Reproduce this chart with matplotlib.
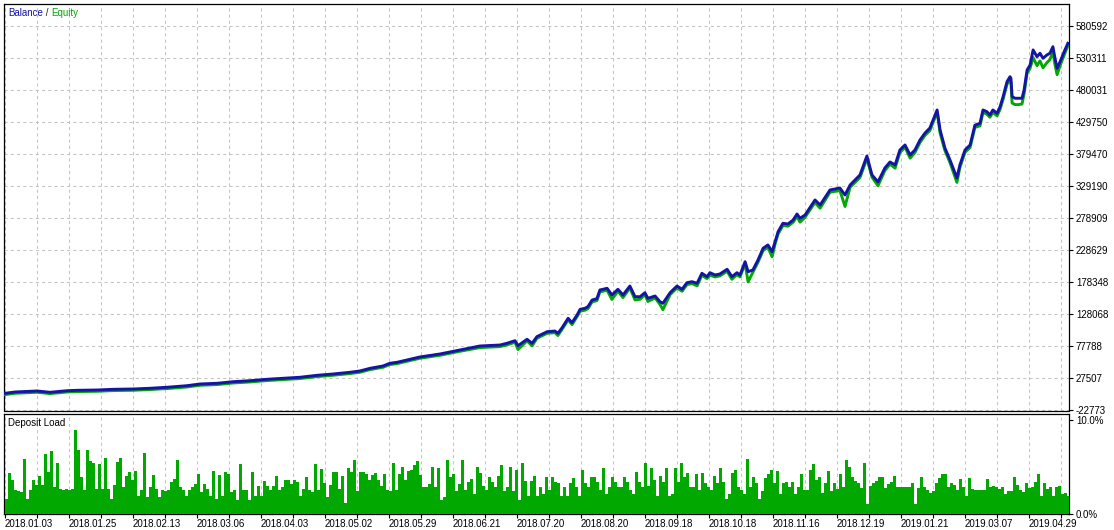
import numpy as np
import matplotlib
matplotlib.use("Agg")
import matplotlib.pyplot as plt

plt.rcParams['font.family'] = ['Liberation Sans', 'DejaVu Sans']

# Balance curve: deal number -> account balance
deal_no = [0, 3.3, 10.7, 15, 20.7, 24, 30.7, 36, 42.7, 48.3,
           54, 60.7, 65, 70.7, 76, 81.7, 87.3, 92.7, 98.3, 104,
           109.3, 115, 118.3, 121.7, 126, 128.3, 130.7, 138.3, 145, 151.7,
           158.3, 165, 167.3, 170, 171, 174, 175.7, 177.3, 180.7, 183.3,
           184.3, 185.7, 187.7, 189, 190.7, 191.7, 193.3, 194.3, 195.7, 197.3,
           198.3, 200.7, 202.3, 204.3, 206, 208.3, 210, 211.7, 213.3, 214.3,
           216.7, 218.3, 219.3, 221.7, 224, 225.7, 227.3, 229, 230.7, 232.3,
           234, 235, 236.7, 238.3, 240.7, 242.3, 244, 245, 246.7, 247.7,
           249.3, 251, 252.7, 254.3, 255.7, 256.7, 257.7, 259.3, 261, 262.7,
           264, 265, 266.7, 270, 271.7, 275, 278.3, 280, 281.7, 285,
           287.3, 289, 291, 293.3, 295, 296.7, 298.3, 300, 301.7, 303.3,
           305, 306.7, 308.3, 310.7, 311.7, 313.3, 315, 317.3, 318.3, 320,
           321.7, 323.3, 325, 326, 327.3, 328.3, 329.3, 330.7, 331.7, 332.7,
           334, 335, 335.3, 335.7, 336.7, 337.7, 339, 339.7, 340.7, 341.7,
           342.7, 344, 345, 346, 347.3, 348.3, 349.3, 350, 350.7, 351.7,
           353.3, 354.3]

balance = [3900, 6000, 7550, 5500, 8000, 8650, 9100, 10200, 10700, 11800,
           13400, 15900, 18550, 19650, 22150, 23750, 25950, 27500, 29100, 32200,
           34250, 36950, 39000, 43200, 46850, 51100, 52650, 61000, 65700, 72000,
           78250, 79800, 82500, 86600, 78700, 88800, 82500, 92900, 100700, 101800,
           98200, 107000, 121800, 114900, 127000, 135900, 137500, 140000, 150500, 152600,
           166250, 168900, 158400, 167350, 158400, 172500, 155700, 155700, 162000, 153200,
           156800, 147900, 145350, 162000, 172500, 167350, 177700, 179300, 176800, 192500,
           187150, 193400, 189800, 191400, 198800, 187150, 193400, 189800, 210700, 195000,
           197700, 213400, 231800, 237000, 226400, 242100, 257900, 271000, 270000, 276200,
           285700, 278900, 284100, 307700, 299800, 323400, 326500, 315500, 331200, 347000,
           376800, 347000, 336000, 358000, 367400, 362700, 386200, 394100, 378400, 386200,
           402000, 413000, 420800, 449100, 417700, 389400, 370500, 342300, 362700, 386200,
           394100, 425200, 428200, 449100, 446400, 441200, 449100, 443900, 454300, 470000,
           493500, 501400, 499000, 470000, 467500, 467500, 467500, 480500, 511900, 519800,
           543400, 532800, 538200, 530300, 535500, 538200, 548500, 530300, 514600, 525000,
           543400, 553900]

# open (floating) loss at the same points: equity = balance - floating loss
floating_loss = [2000, 2000, 2000, 2000, 2000, 2000, 2000, 2000, 2000, 2000,
                 2000, 2000, 2000, 2000, 2000, 2000, 2000, 2000, 2000, 2000,
                 2000, 2000, 2000, 2000, 2000, 2000, 2000, 2000, 2000, 2000,
                 2500, 2500, 2500, 2500, 6000, 2500, 4000, 2500, 2500, 2500,
                 3500, 2500, 2500, 3000, 2500, 3000, 3000, 3000, 3000, 3000,
                 3000, 3000, 7000, 3000, 4000, 3000, 5000, 4000, 3000, 5000,
                 3000, 4000, 10000, 3000, 3000, 3000, 3000, 3000, 4000, 3000,
                 3000, 4000, 3000, 3000, 3000, 4000, 3000, 3000, 3000, 16000,
                 3500, 3500, 3500, 3500, 8000, 3500, 3500, 3500, 3500, 3500,
                 4000, 6000, 3500, 4000, 5000, 3500, 4000, 18000, 3500, 4000,
                 4000, 3500, 6000, 4000, 3500, 5000, 4000, 3500, 5000, 4000,
                 4000, 3500, 4000, 3500, 5000, 4000, 4000, 7000, 4000, 3500,
                 4000, 3500, 4000, 3500, 4000, 3500, 4000, 4000, 4000, 4000,
                 4000, 5000, 5000, 10000, 10000, 10000, 9000, 6000, 5000, 5000,
                 12000, 14000, 12000, 15000, 12000, 10000, 8000, 10000, 10000, 6000,
                 5000, 4000]

# deposit load in percent, one bar per 3 deals
deposit_load = [
    1.6, 4.4, 3.55, 2.5, 2.45, 2.3, 5.9, 1.55, 2.5, 3.65,
    3.1, 4.0, 3.1, 6.35, 4.45, 6.7, 2.85, 5.4, 2.65, 2.5,
    2.65, 2.5, 2.65, 9.0, 6.85, 3.9, 2.5, 6.8, 5.6, 5.4,
    2.65, 5.35, 2.65, 6.0, 2.65, 1.55, 3.1, 5.5, 6.0, 2.9,
    4.0, 4.45, 3.55, 4.6, 1.9, 2.5, 6.5, 1.8, 2.9, 4.1,
    2.65, 1.8, 2.5, 2.4, 2.5, 3.35, 3.7, 5.75, 2.85, 2.5,
    1.9, 2.5, 2.85, 3.2, 4.25, 2.3, 3.2, 2.65, 1.9, 4.6,
    1.55, 4.1, 1.9, 4.45, 4.25, 2.3, 2.55, 1.4, 5.35, 2.5,
    2.5, 1.4, 4.45, 1.9, 3.0, 1.9, 3.45, 3.0, 2.5,
    3.0, 4.0, 2.5, 2.9, 3.65, 3.55, 3.2, 3.55, 3.35, 1.9,
    2.65, 3.9, 2.5, 2.3, 5.3, 2.55, 4.8, 3.3, 1.8, 3.1,
    4.5, 4.5, 2.65, 4.0, 1.1, 4.85, 4.5, 5.7, 2.4, 4.5,
    4.5, 4.2, 3.65, 4.1, 4.4, 3.55, 3.0, 4.2, 2.5, 2.4,
    5.4, 2.5, 4.3, 5.05, 3.65, 4.6, 4.7, 5.2, 5.6, 4.1,
    2.9, 2.85, 3.2, 4.95, 2.9, 4.85, 1.5, 1.75, 5.8, 3.9,
    4.3, 2.4, 3.2, 5.8, 2.5, 3.35, 3.7, 2.05, 4.95, 4.4,
    3.0, 2.5, 3.9, 3.35, 2.8, 4.0, 5.2, 2.4, 2.9, 4.95,
    2.4, 4.7, 1.5, 5.4, 3.45, 1.9, 3.45, 4.0, 1.9, 2.9,
    2.05, 3.9, 2.5, 3.9, 3.4, 3.3, 1.9, 2.9, 1.9, 3.3,
    3.8, 2.8, 1.9, 4.7, 3.3, 2.9, 3.9, 3.9, 3.4, 2.5,
    4.85, 2.05, 2.9, 3.9, 3.4, 2.9, 2.9, 3.9, 3.4, 2.5,
    2.05, 4.5, 3.4, 2.9, 5.4, 3.0, 4.85, 3.6, 1.9, 4.0,
    3.4, 4.85, 1.9, 2.05, 4.85, 3.4, 5.4, 3.9, 4.4, 2.9,
    2.9, 4.3, 2.5, 4.4, 3.3, 2.9, 2.5, 4.0, 3.3, 4.85,
    3.4, 1.6, 2.05, 4.4, 4.7, 2.9, 2.5, 2.05, 5.9, 2.9,
    3.9, 3.3, 1.6, 2.4, 3.8, 4.3, 4.7, 3.3, 4.6, 2.05,
    3.3, 3.4, 2.9, 3.4, 2.05, 2.8, 4.3, 2.5, 2.5, 4.7,
    5.3, 3.6, 3.9, 2.2, 3.3, 4.6, 2.4, 3.3, 2.6, 4.3,
    2.9, 5.7, 5.0, 3.9, 3.5, 3.3, 2.7, 5.4, 1.0, 3.0,
    3.3, 3.5, 3.9, 3.9, 2.7, 3.2, 3.4, 4.0, 2.9, 2.9,
    2.9, 2.9, 2.9, 3.3, 1.0, 2.7, 3.9, 2.9, 2.5, 2.2,
    2.4, 3.3, 3.8, 4.2, 4.3, 2.8, 3.3, 3.1, 2.5, 3.7,
    2.9, 1.9, 3.8, 2.6, 2.5, 2.5, 2.5, 2.5, 3.7, 2.9,
    3.0, 2.9, 2.6, 2.9, 2.1, 2.4, 2.4, 3.9, 3.1, 2.5,
    2.3, 3.3, 2.7, 2.9, 3.4, 4.3, 1.9, 3.3, 2.6, 2.9,
    1.9, 2.9, 3.0, 2.05, 2.2, 1.9, 2.9]

date_labels = ['2018.01.03', '2018.01.25', '2018.02.13', '2018.03.06', '2018.04.03',
               '2018.05.02', '2018.05.29', '2018.06.21', '2018.07.20', '2018.08.20',
               '2018.09.18', '2018.10.18', '2018.11.16', '2018.12.19', '2019.01.21',
               '2019.03.07', '2019.04.29']
balance_ticks = [-22773, 27507, 77788, 128068, 178348, 228629, 278909,
                 329190, 379470, 429750, 480031, 530311, 580592]
load_ticks = [0, 10]
load_labels = ['0.0%', '10.0%']

BLUE = '#1414a6'
GREEN = '#00a800'
GRID = '#c4c4c4'

W, H = 1114, 530
fig = plt.figure(figsize=(W / 100, H / 100), dpi=100)
left, right = 4, 1069
ax1 = fig.add_axes([left / W, (H - 410.5) / H, (right - left) / W, (410.5 - 4) / H])
ax2 = fig.add_axes([left / W, (H - 513.5) / H, (right - left) / W, (513.5 - 413.5) / H])

x_min, x_max = -1 / 3, 1064 / 3
grid_x = np.arange(34) * 32 / 3

equity = np.array(balance) - np.array(floating_loss)

# --- balance / equity panel
ax1.plot(deal_no, equity, color=GREEN, lw=2.1, zorder=3)
ax1.plot(deal_no, balance, color=BLUE, lw=2.1, zorder=4)
ax1.set_xlim(x_min, x_max)
ax1.set_ylim(-23090, 615600)
ax1.set_xticks(grid_x)
ax1.set_yticks(balance_ticks)
ax1.set_yticklabels([str(v) for v in balance_ticks])
ax1.yaxis.tick_right()
ax1.tick_params(axis='x', length=0, labelbottom=False)
ax1.tick_params(axis='y', direction='out', length=3, width=0.8, pad=2,
                labelsize=7, colors='black')
ax1.grid(True, color=GRID, lw=0.75, linestyle=(0, (3, 3)))

t1 = ax1.annotate('Balance', xy=(0, 1), xycoords='axes fraction',
                  xytext=(4, -9), textcoords='offset pixels',
                  ha='left', va='center', fontsize=7, color=BLUE)
t2 = ax1.annotate(' / ', xy=(1, 0.5), xycoords=t1, ha='left', va='center',
                  fontsize=7, color='#202020')
ax1.annotate('Equity', xy=(1, 0.5), xycoords=t2, ha='left', va='center',
             fontsize=7, color=GREEN)

# --- deposit load panel
ax2.bar(np.arange(len(deposit_load)), deposit_load, width=1.0, align='edge',
        color=GREEN, lw=0, zorder=3)
ax2.set_xlim(x_min, x_max)
ax2.set_ylim(0, 10.75)
ax2.set_yticks(load_ticks)
ax2.set_yticklabels(load_labels)
ax2.yaxis.tick_right()
ax2.tick_params(axis='y', direction='out', length=3, width=0.8, pad=2,
                labelsize=7, colors='black')
tick_text = [date_labels[k // 2] if k % 2 == 0 else '' for k in range(len(grid_x))]
ax2.set_xticks(grid_x)
ax2.set_xticklabels(tick_text)
plt.setp(ax2.get_xticklabels(), ha='left')
ax2.tick_params(axis='x', direction='out', length=3, width=0.8, pad=1,
                labelsize=7, colors='black')
ax2.grid(True, axis='x', color=GRID, lw=0.75, linestyle=(0, (3, 3)))
ax2.annotate('Deposit Load', xy=(0, 1), xycoords='axes fraction',
             xytext=(4, -9), textcoords='offset pixels',
             ha='left', va='center', fontsize=7, color='black')

for ax in (ax1, ax2):
    ax.set_axisbelow(True)
    for sp in ax.spines.values():
        sp.set_color('black')
        sp.set_linewidth(0.9)

fig.savefig('out.png', dpi=100)
